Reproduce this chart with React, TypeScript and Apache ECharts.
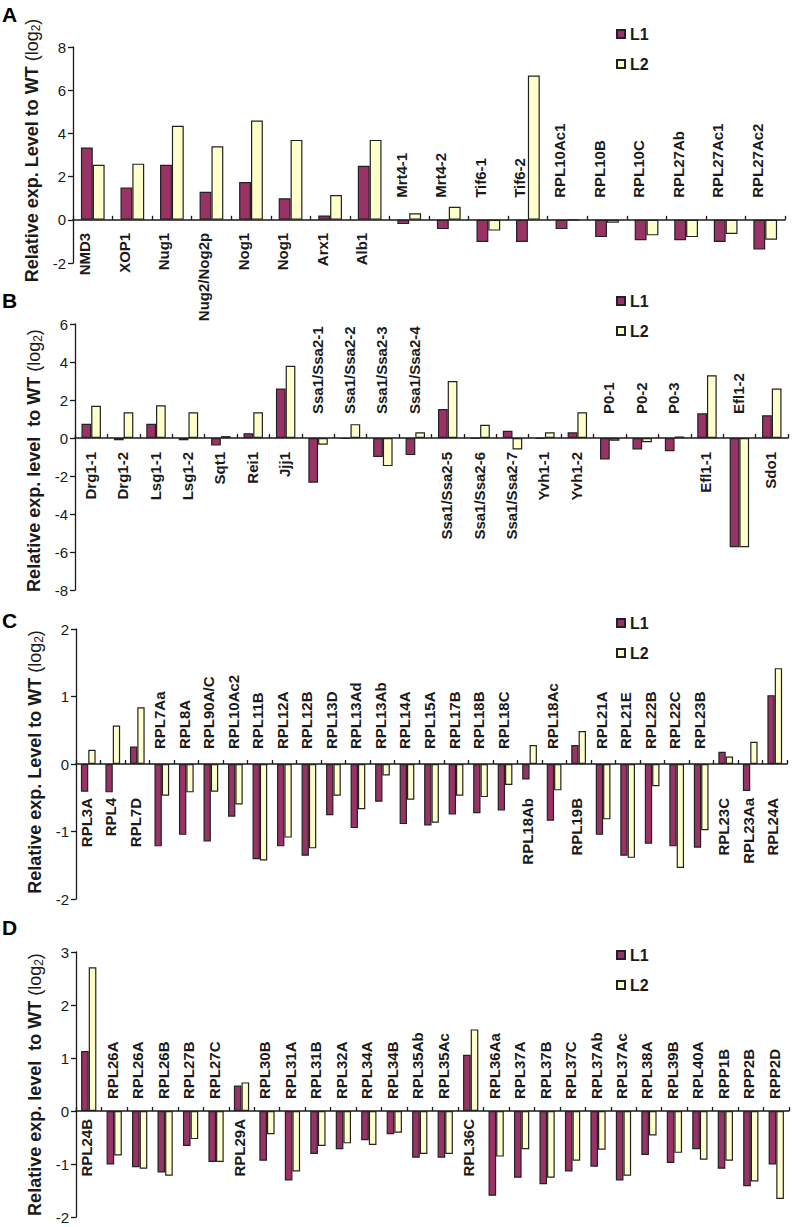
import React, { useEffect, useRef } from 'react';
import * as echarts from 'echarts';

const FONT = 'Arial, "Liberation Sans", Helvetica, sans-serif';

// ---------- Panel A ----------
const catsA = ['NMD3', 'XOP1', 'Nug1', 'Nug2/Nog2p', 'Nog1', 'Nog1', 'Arx1', 'Alb1', 'Mrt4-1', 'Mrt4-2', 'Tif6-1', 'Tif6-2', 'RPL10Ac1', 'RPL10B', 'RPL10C', 'RPL27Ab', 'RPL27Ac1', 'RPL27Ac2'];
const l1A = [3.35, 1.5, 2.55, 1.3, 1.75, 1.0, 0.2, 2.5, -0.2, -0.43, -1.03, -1.03, -0.43, -0.8, -0.95, -0.95, -1.03, -1.38];
const l2A = [2.55, 2.6, 4.35, 3.4, 4.6, 3.7, 1.15, 3.7, 0.3, 0.6, -0.5, 6.68, 0, -0.14, -0.72, -0.8, -0.66, -0.92];
const sideA = ['d', 'd', 'd', 'd', 'd', 'd', 'd', 'd', 'u', 'u', 'u', 'u', 'u', 'u', 'u', 'u', 'u', 'u'];
const ticksA = [-2, 8, 2];

// ---------- Panel B ----------
const catsB = ['Drg1-1', 'Drg1-2', 'Lsg1-1', 'Lsg1-2', 'Sqt1', 'Rei1', 'Jjj1', 'Ssa1/Ssa2-1', 'Ssa1/Ssa2-2', 'Ssa1/Ssa2-3', 'Ssa1/Ssa2-4', 'Ssa1/Ssa2-5', 'Ssa1/Ssa2-6', 'Ssa1/Ssa2-7', 'Yvh1-1', 'Yvh1-2', 'P0-1', 'P0-2', 'P0-3', 'Efl1-1', 'Efl1-2', 'Sdo1'];
const l1B = [0.75, -0.12, 0.75, -0.12, -0.4, 0.25, 2.6, -2.35, -0.05, -1.0, -0.9, 1.53, -0.03, 0.38, -0.03, 0.3, -1.13, -0.6, -0.7, 1.3, -5.75, 1.2];
const l2B = [1.7, 1.35, 1.72, 1.35, 0.1, 1.35, 3.8, -0.35, 0.73, -1.48, 0.3, 3.0, 0.7, -0.6, 0.3, 1.35, -0.14, -0.22, 0.08, 3.3, -5.75, 2.6];
const sideB = ['d', 'd', 'd', 'd', 'd', 'd', 'd', 'u', 'u', 'u', 'u', 'd', 'd', 'd', 'd', 'd', 'u', 'u', 'u', 'd', 'u', 'd'];
const ticksB = [-8, 6, 2];

// ---------- Panel C ----------
const catsC = ['RPL3A', 'RPL4', 'RPL7D', 'RPL7Aa', 'RPL8A', 'RPL90A/C', 'RPL10Ac2', 'RPL11B', 'RPL12A', 'RPL12B', 'RPL13D', 'RPL13Ad', 'RPL13Ab', 'RPL14A', 'RPL15A', 'RPL17B', 'RPL18B', 'RPL18C', 'RPL18Ab', 'RPL18Ac', 'RPL19B', 'RPL21A', 'RPL21E', 'RPL22B', 'RPL22C', 'RPL23B', 'RPL23C', 'RPL23Aa', 'RPL24A'];
const l1C = [-0.41, -0.42, 0.26, -1.22, -1.05, -1.15, -0.78, -1.41, -1.22, -1.36, -0.76, -0.95, -0.56, -0.89, -0.91, -0.75, -0.73, -0.69, -0.23, -0.84, 0.28, -1.05, -1.36, -1.18, -1.22, -1.24, 0.18, -0.4, 1.02];
const l2C = [0.21, 0.57, 0.84, -0.47, -0.42, -0.41, -0.6, -1.43, -1.09, -1.25, -0.47, -0.67, -0.17, -0.53, -0.87, -0.47, -0.49, -0.31, 0.28, -0.39, 0.49, -0.82, -1.39, -0.33, -1.54, -0.98, 0.11, 0.33, 1.42];
const sideC = ['d', 'd', 'd', 'u', 'u', 'u', 'u', 'u', 'u', 'u', 'u', 'u', 'u', 'u', 'u', 'u', 'u', 'u', 'd', 'u', 'd', 'u', 'u', 'u', 'u', 'u', 'd', 'd', 'd'];
const ticksC = [-2, 2, 1];

// ---------- Panel D ----------
const catsD = ['RPL24B', 'RPL26A', 'RPL26A', 'RPL26B', 'RPL27B', 'RPL27C', 'RPL29A', 'RPL30B', 'RPL31A', 'RPL31B', 'RPL32A', 'RPL34A', 'RPL34B', 'RPL35Ab', 'RPL35Ac', 'RPL36C', 'RPL36Aa', 'RPL37A', 'RPL37B', 'RPL37C', 'RPL37Ab', 'RPL37Ac', 'RPL38A', 'RPL39B', 'RPL40A', 'RPP1B', 'RPP2B', 'RPP2D'];
const l1D = [1.13, -1.01, -1.06, -1.16, -0.66, -0.96, 0.48, -0.94, -1.31, -0.81, -0.72, -0.55, -0.44, -0.88, -0.88, 1.06, -1.6, -1.26, -1.38, -1.14, -1.05, -1.31, -0.83, -0.98, -0.72, -1.09, -1.42, -1.01];
const l2D = [2.71, -0.84, -1.09, -1.22, -0.53, -0.96, 0.54, -0.44, -1.14, -0.66, -0.61, -0.64, -0.41, -0.81, -0.81, 1.54, -0.86, -0.72, -1.26, -0.94, -0.73, -1.22, -0.46, -0.79, -0.92, -0.94, -1.33, -1.66];
const sideD = ['d', 'u', 'u', 'u', 'u', 'u', 'd', 'u', 'u', 'u', 'u', 'u', 'u', 'u', 'u', 'd', 'u', 'u', 'u', 'u', 'u', 'u', 'u', 'u', 'u', 'u', 'u', 'u'];
const ticksD = [-2, 3, 1];

const seriesNames = ['L1', 'L2'];
const yNames = [
  ['Relative exp. Level to WT ', '(log', '2', ')'],
  ['Relative exp. level  to WT ', '(log', '2', ')'],
  ['Relative exp. Level to WT ', '(log', '2', ')'],
  ['Relative exp. level  to WT ', '(log', '2', ')'],
];
const letters = ['A', 'B', 'C', 'D'];

const COLOR_L1 = '#993366';
const COLOR_L2 = '#FFFFCC';
const INK = '#1a1a1a';

const panels = [
  { cats: catsA, l1: l1A, l2: l2A, side: sideA, ticks: ticksA, left: 73, right: 7, top: 47, height: 216, down: 13, up: 22, dx: -8, nameGap: 26, namePad: [0, 0, 0, 9], letterY: 14.5, legendTop: 26 },
  { cats: catsB, l1: l1B, l2: l2B, side: sideB, ticks: ticksB, left: 75, right: 4, top: 324, height: 266, down: 14, up: 24, dx: -1, nameGap: 29, namePad: [0, 7, 0, 0], letterY: 300.5, legendTop: 293 },
  { cats: catsC, l1: l1C, l2: l2C, side: sideC, ticks: ticksC, left: 76, right: 5, top: 629, height: 270, down: 34, up: 15, dx: -2, nameGap: 29, namePad: [0, 0, 0, 4], letterY: 620.5, legendTop: 615 },
  { cats: catsD, l1: l1D, l2: l2D, side: sideD, ticks: ticksD, left: 76, right: 3, top: 952, height: 265, down: 8, up: 12, dx: -2, nameGap: 29, namePad: [0, 0, 0, 0], letterY: 927.5, legendTop: 947 },
];

function buildOption() {
  const grid: any[] = [];
  const xAxis: any[] = [];
  const yAxis: any[] = [];
  const series: any[] = [];
  const legend: any[] = [];
  const graphic: any[] = [];

  panels.forEach((p, i) => {
    grid.push({ left: p.left, right: p.right, top: p.top, height: p.height, containLabel: false });
    const nm = yNames[i];
    yAxis.push({
      gridIndex: i,
      type: 'value',
      min: p.ticks[0],
      max: p.ticks[1],
      interval: p.ticks[2],
      axisLine: { show: true, lineStyle: { color: INK, width: 1.3 } },
      axisTick: { show: true, inside: false, length: 5, lineStyle: { color: INK, width: 1.3 } },
      splitLine: { show: false },
      axisLabel: { fontSize: 15, color: INK, fontFamily: FONT, margin: 7 },
      name: `{a|${nm[0]}}{b|${nm[1]}}{s|${nm[2]}}{b|${nm[3]}}`,
      nameLocation: 'middle',
      nameRotate: 90,
      nameGap: p.nameGap,
      nameTextStyle: {
        padding: p.namePad,
        rich: {
          a: { fontSize: 18, fontWeight: 'bold', fontFamily: FONT, color: INK, verticalAlign: 'middle', lineHeight: 20 },
          b: { fontSize: 18, fontWeight: 'normal', fontFamily: FONT, color: INK, verticalAlign: 'middle', lineHeight: 20 },
          s: { fontSize: 12, fontWeight: 'normal', fontFamily: FONT, color: INK, verticalAlign: 'bottom', lineHeight: 12, padding: [9, 0, 0, 0] },
        },
      },
    });
    // category axis: zero line with small upward ticks; labels drawn by custom series
    xAxis.push({
      gridIndex: i,
      type: 'category',
      data: p.cats,
      position: 'bottom',
      axisLine: { show: true, onZero: true, onZeroAxisIndex: i, lineStyle: { color: INK, width: 1.5 } },
      axisTick: { show: true, inside: true, length: 4, interval: 0, lineStyle: { color: INK, width: 1.3 } },
      axisLabel: { show: false },
      splitLine: { show: false },
    });
    [p.l1, p.l2].forEach((vals, k) => {
      series.push({
        type: 'bar',
        name: seriesNames[k],
        xAxisIndex: i,
        yAxisIndex: i,
        data: vals,
        barGap: '0%',
        barCategoryGap: '40%',
        itemStyle: { color: k === 0 ? COLOR_L1 : COLOR_L2, borderColor: '#222', borderWidth: 1.2 },
        emphasis: { disabled: true },
      });
    });
    // category labels, anchored at (category, 0) through the axes' scales
    series.push({
      type: 'custom',
      name: 'labels' + i,
      xAxisIndex: i,
      yAxisIndex: i,
      clip: false,
      silent: true,
      z: 5,
      data: p.cats.map((c, idx) => ({ value: [idx, 0], name: c })),
      renderItem: (params: any, api: any) => {
        const idx = params.dataIndex;
        const pt = api.coord([api.value(0), 0]);
        const down = p.side[idx] === 'd';
        return {
          type: 'text',
          x: pt[0] + p.dx,
          y: down ? pt[1] + p.down : pt[1] - p.up,
          rotation: Math.PI / 2,
          style: {
            text: p.cats[idx],
            fill: INK,
            fontSize: 15,
            fontWeight: 'bold',
            fontFamily: FONT,
            align: down ? 'right' : 'left',
            verticalAlign: 'middle',
          },
        };
      },
    });
    legend.push({
      data: seriesNames,
      orient: 'vertical',
      left: 616,
      top: p.legendTop,
      padding: 0,
      icon: 'rect',
      itemWidth: 8,
      itemHeight: 8,
      itemGap: 14,
      textStyle: { fontSize: 16, fontWeight: 'bold', fontFamily: FONT, color: INK },
      selectedMode: false,
    });
    graphic.push({
      type: 'text',
      left: 2,
      top: p.letterY - 11,
      style: { text: letters[i], fontSize: 21, fontWeight: 'bold', fontFamily: FONT, fill: '#000' },
    });
  });

  return { animation: false, backgroundColor: '#ffffff', grid, xAxis, yAxis, series, legend, graphic };
}

export default function App() {
  const ref = useRef<HTMLDivElement>(null);
  useEffect(() => {
    if (!ref.current) return;
    const chart = echarts.init(ref.current, undefined, { renderer: 'svg' });
    chart.setOption(buildOption());
    return () => chart.dispose();
  }, []);
  return (
    <div
      ref={ref}
      style={{ position: 'absolute', left: 0, top: 0, width: 792, height: 1227, background: '#fff' }}
    />
  );
}
